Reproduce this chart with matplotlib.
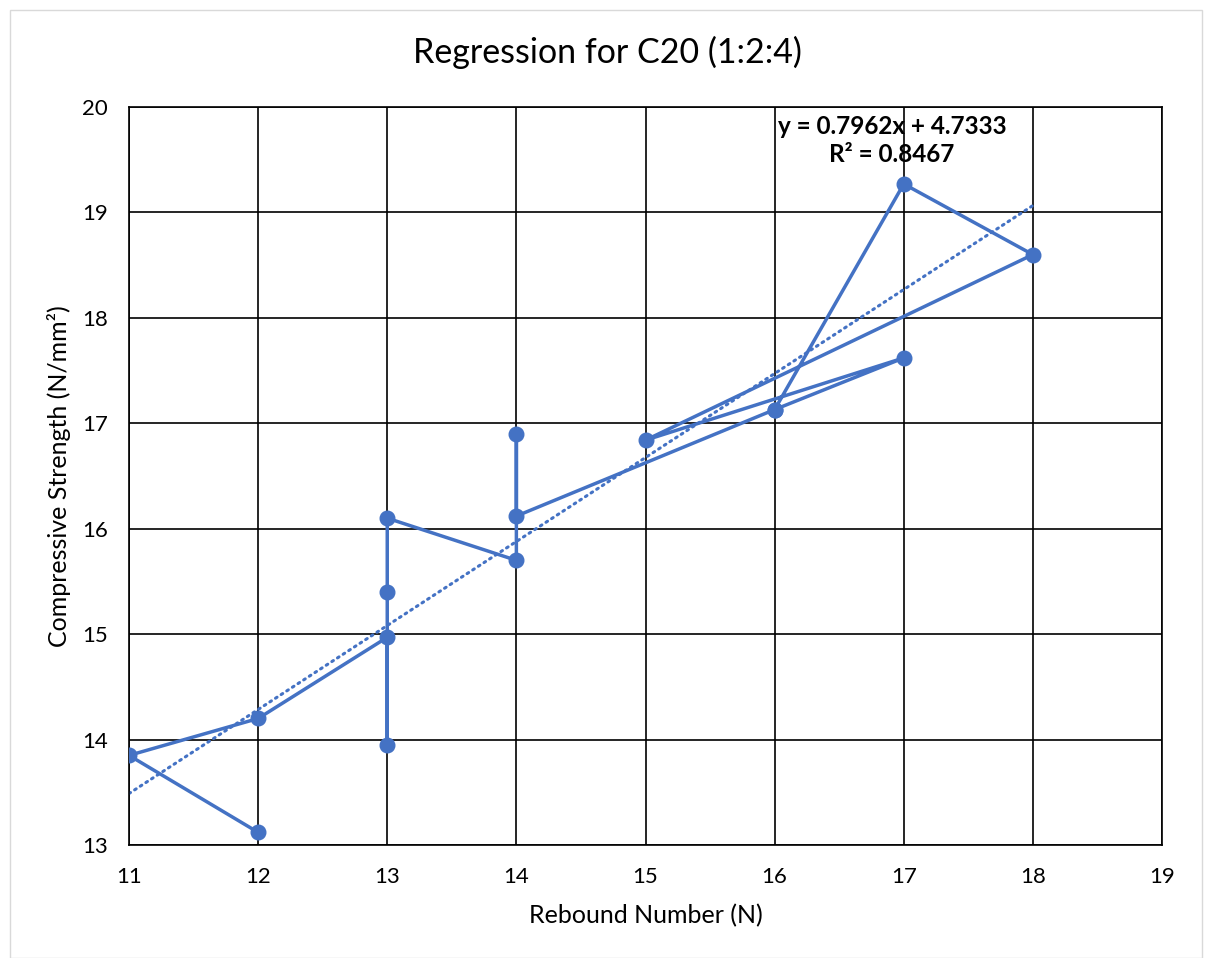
import numpy as np
import matplotlib.pyplot as plt
from matplotlib.patches import Rectangle

# Datos (orden original de la serie)
rebote = [12, 11, 12, 13, 13, 13, 13, 14, 14, 14, 16, 17, 18, 15, 17, 16]
resistencia = [13.12, 13.85, 14.20, 14.97, 13.95, 15.40, 16.10, 15.70, 16.90,
               16.12, 17.13, 19.27, 18.60, 16.84, 17.62, 17.13]
xticks = [11, 12, 13, 14, 15, 16, 17, 18, 19]
yticks = [13, 14, 15, 16, 17, 18, 19, 20]
titulo = "Regression for C20 (1:2:4)"
ecuacion = "y = 0.7962x + 4.7333\nR² = 0.8467"

color = "#4472C4"
plt.rcParams['font.family'] = ['Lato', 'DejaVu Sans']

fig = plt.figure(figsize=(12.06, 9.58), dpi=100)
ax = fig.add_axes([129 / 1206, 1 - 845 / 958, (1162 - 129) / 1206, (845 - 107) / 958])

# borde del área del gráfico
fig.patches.append(Rectangle((10 / 1206, 0), 1192 / 1206, 948 / 958, transform=fig.transFigure,
                             fill=False, edgecolor="#d9d9d9", linewidth=1))

ax.plot(rebote, resistencia, color=color, linewidth=2.5, marker='o', markersize=10.5, zorder=3)

# línea de tendencia (datos sin el punto repetido al final)
x = np.array(rebote[:15])
y = np.array(resistencia[:15])
m, b = np.polyfit(x, y, 1)
xt = np.array([min(x), max(x)])
ax.plot(xt, m * xt + b, color=color, linewidth=2.2, linestyle=(0, (0.6, 1.6)),
        dash_capstyle='round', zorder=2)

ax.text(16.91, 19.68, ecuacion, ha='center', va='center', fontsize=17.5, fontweight='bold',
        linespacing=1.25, zorder=4)

ax.set_xlim(11, 19)
ax.set_ylim(13, 20)
ax.set_xticks(xticks)
ax.set_yticks(yticks)
ax.grid(True, color='black', linewidth=1.2)
ax.set_axisbelow(True)
for s in ax.spines.values():
    s.set_color('black')
    s.set_linewidth(1.2)
ax.tick_params(length=0, labelsize=16)
ax.tick_params(axis='x', pad=16)
ax.tick_params(axis='y', pad=15)

ax.set_xlabel("Rebound Number (N)", fontsize=18, labelpad=12)
ax.set_ylabel("Compressive Strength (N/mm²)", fontsize=18, labelpad=8)
fig.text(607 / 1206, 1 - 52 / 958, titulo, ha='center', va='center', fontsize=24.5)

fig.savefig("out.png", dpi=100)
